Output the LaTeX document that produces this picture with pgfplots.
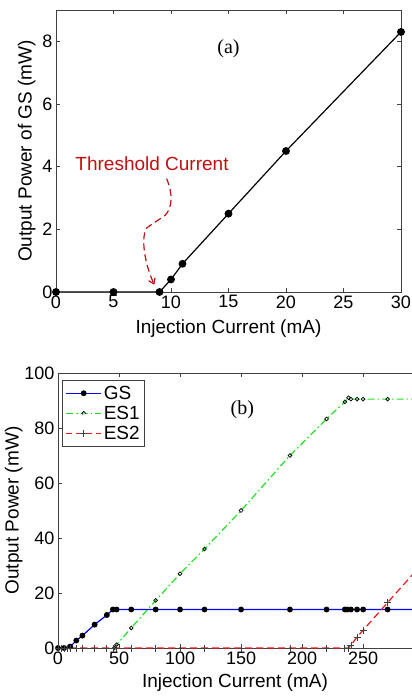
\documentclass[border=0pt]{standalone}
\usepackage{fontspec}
\setmainfont{Liberation Sans}
\newfontfamily\timesfont{Liberation Serif}
\usepackage{pgfplots}
\pgfplotsset{compat=1.18}
\usetikzlibrary{arrows.meta}
\definecolor{gsblue}{HTML}{0000FF}
\definecolor{esgreen}{HTML}{22E022}
\definecolor{esred}{HTML}{F01818}
\definecolor{thred}{HTML}{C01010}
\definecolor{axgray}{HTML}{404040}

\newcommand{\legtext}[1]{\fontsize{19}{19}\selectfont\rule[-5pt]{0pt}{19.5pt}#1}

\pgfplotsset{
  lvstyle/.style={
    scale only axis,
    tick align=inside,
    major tick length=4pt,
    tick style={axgray, line width=0.6pt},
    axis line style={axgray, line width=0.7pt},
    tick label style={font=\fontsize{18}{18}\selectfont},
    label style={font=\fontsize{19}{19}\selectfont},
    /pgf/number format/assume math mode=true,
  },
}

\begin{document}
\begin{tikzpicture}[x=1pt,y=1pt]
\useasboundingbox (0,0) rectangle (412,697);

% ---- panel (a)
\begin{axis}[lvstyle,
  at={(56pt,405pt)}, anchor=south west,
  width=345pt, height=282pt,
  xmin=0, xmax=30, ymin=0, ymax=9,
  xtick={0,5,...,30}, ytick={0,2,...,8},
  xlabel={Injection Current (mA)},
  ylabel={Output Power of GS (mW)},
  xlabel style={yshift=-5pt},
]
\addplot[draw=black, line width=1.2pt, mark=*, mark size=3.3pt, mark options={fill=black}] coordinates {
  (0,0) (5,0) (9,0) (10,0.4) (11,0.9) (15,2.5) (20,4.5) (30,8.3)};
\node[font=\timesfont\fontsize{20}{20}\selectfont] at (axis cs:15,7.75) {(a)};
\node[font=\fontsize{19}{19}\selectfont, text=thred] at (axis cs:8.35,4.1) {Threshold Current};
\draw[thred, dashed, line width=1.2pt, dash pattern=on 7pt off 4pt, -{Straight Barb[length=5pt,width=7pt]}]
  (axis cs:9.62,3.62) .. controls (axis cs:10.2,3.1) and (axis cs:10.1,2.7) .. (axis cs:9.5,2.45)
  -- (axis cs:7.9,2.05) .. controls (axis cs:7.4,1.8) and (axis cs:7.6,1.0) .. (axis cs:8.55,0.23);
\end{axis}

% ---- panel (b)
\begin{axis}[lvstyle,
  at={(58pt,49pt)}, anchor=south west,
  width=354pt, height=275pt,
  axis x line=box, axis y line=left,
  y axis line style={-},
  xtick pos=both, ytick pos=left,
  tick align=inside,
  xmin=0, xmax=290, ymin=0, ymax=100,
  xtick={0,50,...,250}, ytick={0,20,...,100},
  xlabel={Injection Current (mA)},
  ylabel={Output Power (mW)},
  xlabel style={font=\fontsize{19}{19}\selectfont, yshift=-3pt},
  ylabel style={yshift=-5pt},
  legend style={at={(0.012,0.975)}, anchor=north west,
    draw=axgray, line width=0.7pt,
    inner xsep=3pt, inner ysep=3pt},
  legend cell align=left,
]
\addplot[draw=gsblue, line width=1.2pt, mark=*, mark size=2.3pt, mark options={fill=black, draw=black},
  legend image code/.code={
    \draw[draw=gsblue, color=gsblue, line width=1.2pt] (0pt,0pt) -- (35pt,0pt);
    \fill[black] (17.5pt,0pt) circle (2.3pt);}] coordinates {
  (0,0) (5,0) (10,0.5) (15,2.7) (20,4.5) (30,8.5) (40,12) (45,14) (48,14) (60,14)
  (80,14) (100,14) (120,14) (150,14) (190,14) (220,14) (235,14) (237,14) (240,14)
  (245,14) (250,14) (270,14) (300,14)};
\addlegendentry{\legtext{GS}}
\addplot[draw=esgreen, line width=1.2pt, dash pattern=on 7pt off 3pt on 1.5pt off 3pt,
  mark=o, mark size=1.9pt, mark options={solid, draw=black, fill=esgreen!40, line width=0.7pt},
  legend image code/.code={
    \draw[draw=esgreen, color=esgreen, line width=1.2pt, dash pattern=on 7pt off 3pt on 1.5pt off 3pt] (0pt,0pt) -- (35pt,0pt);
    \filldraw[draw=black, fill=esgreen!40, line width=0.7pt] (17.5pt,0pt) circle (1.9pt);}] coordinates {
  (46,0) (48,1.2) (60,7.3) (80,17.3) (100,27) (120,36) (150,50) (190,70) (220,83.3)
  (235,89.5) (238,91) (240,90.5) (245,90.5) (250,90.5) (270,90.5) (300,90.5)};
\addlegendentry{\legtext{ES1}}
\addplot[draw=esred, line width=1.2pt, dash pattern=on 7pt off 4pt,
  mark=+, mark size=3.5pt, mark options={solid, draw=axgray, line width=0.8pt},
  legend image code/.code={
    \draw[draw=esred, color=esred, line width=1.2pt, dash pattern=on 6pt off 4pt] (0pt,0pt) -- (35pt,0pt);
    \draw[draw=axgray, line width=0.8pt] (14pt,0pt) -- (21pt,0pt) (17.5pt,-3.5pt) -- (17.5pt,3.5pt);}] coordinates {
  (0,0) (2.5,0) (5,0) (7.5,0) (10,0) (15,0) (20,0) (30,0) (40,0) (45,0) (48,0)
  (60,0) (80,0) (100,0) (120,0) (150,0) (190,0) (220,0) (235,0) (238,0)
  (240,1) (245,4) (250,6.5) (270,16.5) (300,31.5)};
\addlegendentry{\legtext{ES2}}
\node[font=\timesfont\fontsize{20}{20}\selectfont] at (axis cs:151,86.5) {(b)};
\end{axis}
\end{tikzpicture}
\end{document}
